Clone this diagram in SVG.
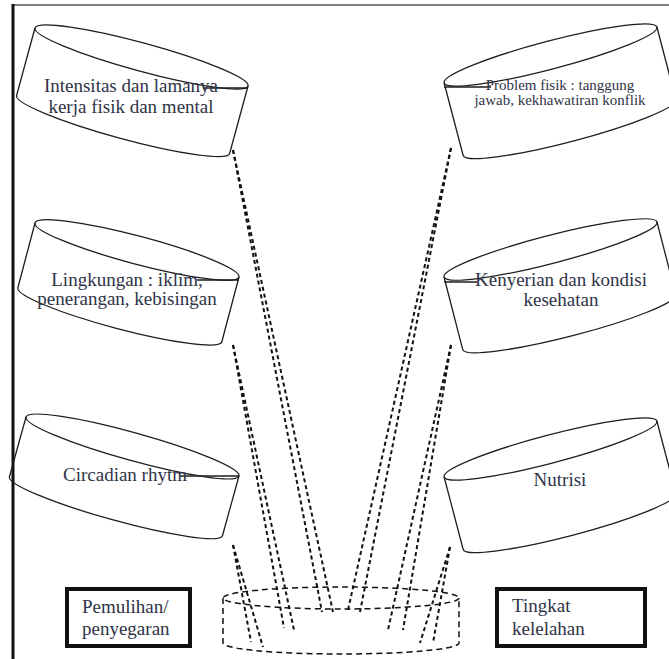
<svg xmlns="http://www.w3.org/2000/svg" width="669" height="659" viewBox="0 0 669 659">
<style>
.cyl{fill:none;stroke:#1e1e1e;stroke-width:1.3}
.t{font-family:"Liberation Serif","Times New Roman",serif;font-size:19px;fill:#2f3347}
.ts{font-family:"Liberation Serif","Times New Roman",serif;font-size:15px;fill:#2f3347}
.hl{stroke:#1e1e1e;stroke-width:1.3}
.box{fill:none;stroke:#111;stroke-width:4}
.dl{fill:none;stroke:#111;stroke-width:2;stroke-dasharray:4 3}
.dc{fill:none;stroke:#111;stroke-width:1.5;stroke-dasharray:6 4}
</style>
<rect width="669" height="659" fill="#fff"/>
<g id="frame">
<line x1="13" y1="5" x2="669" y2="5" stroke="#555" stroke-width="1.6"/>
<line x1="13" y1="4" x2="13" y2="659" stroke="#111" stroke-width="3"/>
</g>
<g id="cyl-intensitas">
<g transform="translate(141.5,57) rotate(15.23)">
<ellipse class="cyl" cx="0" cy="0" rx="110.4" ry="14"/>
<path class="cyl" d="M-110.4,0 L-110.4,70 A110.4,14 0 0 0 110.4,70 L110.4,0"/>
</g>
<line class="hl" x1="203" y1="88" x2="248" y2="88"/>
<text class="t" text-anchor="middle"><tspan x="131" y="92">Intensitas dan lamanya</tspan><tspan x="131" y="113">kerja fisik dan mental</tspan></text>
</g>
<g id="cyl-lingkungan">
<g transform="translate(137,250) rotate(14.83)">
<ellipse class="cyl" cx="0" cy="0" rx="105.5" ry="14"/>
<path class="cyl" d="M-105.5,0 L-105.5,67 A105.5,14 0 0 0 105.5,67 L105.5,0"/>
</g>
<line class="hl" x1="197" y1="280" x2="239" y2="280"/>
<text class="t" text-anchor="middle"><tspan x="127" y="286">Lingkungan : iklim,</tspan><tspan x="127" y="305">penerangan, kebisingan</tspan></text>
</g>
<g id="cyl-circadian">
<g transform="translate(132.5,446.5) rotate(15.48)">
<ellipse class="cyl" cx="0" cy="0" rx="110.5" ry="14"/>
<path class="cyl" d="M-110.5,0 L-110.5,62 A110.5,14 0 0 0 110.5,62 L110.5,0"/>
</g>
<line class="hl" x1="180" y1="476" x2="239" y2="476"/>
<text class="t" text-anchor="middle" x="125" y="481">Circadian rhytm</text>
</g>
<g id="cyl-problem">
<g transform="translate(550.5,55) rotate(-14.73)">
<ellipse class="cyl" cx="0" cy="0" rx="110" ry="14"/>
<path class="cyl" d="M-110,0 L-110,75 A110,14 0 0 0 110,75 L110,0"/>
</g>
<line class="hl" x1="444" y1="87" x2="491" y2="87"/>
<text class="ts" text-anchor="middle"><tspan x="560" y="90">Problem fisik : tanggung</tspan><tspan x="560" y="105">jawab, kekhawatiran konflik</tspan></text>
</g>
<g id="cyl-kenyerian">
<g transform="translate(550.5,249.5) rotate(-14.48)">
<ellipse class="cyl" cx="0" cy="0" rx="110" ry="14"/>
<path class="cyl" d="M-110,0 L-110,75 A110,14 0 0 0 110,75 L110,0"/>
</g>
<line class="hl" x1="444" y1="282" x2="477" y2="282"/>
<text class="t" text-anchor="middle"><tspan x="561" y="286">Kenyerian dan kondisi</tspan><tspan x="561" y="306">kesehatan</tspan></text>
</g>
<g id="cyl-nutrisi">
<g transform="translate(550.5,449) rotate(-14.73)">
<ellipse class="cyl" cx="0" cy="0" rx="110" ry="14"/>
<path class="cyl" d="M-110,0 L-110,75 A110,14 0 0 0 110,75 L110,0"/>
</g>
<text class="t" text-anchor="middle" x="560" y="486">Nutrisi</text>
</g>
<g id="box-pemulihan">
<rect class="box" x="67" y="589" width="123" height="57"/>
<text class="t"><tspan x="82" y="613">Pemulihan/</tspan><tspan x="82" y="635">penyegaran</tspan></text>
</g>
<g id="box-tingkat">
<rect class="box" x="497" y="589" width="148" height="57"/>
<text class="t"><tspan x="512" y="612">Tingkat</tspan><tspan x="512" y="635">kelelahan</tspan></text>
</g>
<g id="cyl-center">
<ellipse class="dc" cx="341" cy="598" rx="118" ry="11"/>
<path class="dc" d="M223,598 L223,643 A118,11 0 0 0 459,643 L459,598"/>
</g>
<g id="connectors">
<line class="dl" x1="233" y1="150" x2="322" y2="612"/>
<line class="dl" x1="233" y1="150" x2="333" y2="612"/>
<line class="dl" x1="233" y1="345" x2="284" y2="628"/>
<line class="dl" x1="233" y1="345" x2="294" y2="630"/>
<line class="dl" x1="233" y1="545" x2="251" y2="642"/>
<line class="dl" x1="233" y1="545" x2="263" y2="647"/>
<line class="dl" x1="451" y1="148" x2="348" y2="610"/>
<line class="dl" x1="451" y1="148" x2="360" y2="612"/>
<line class="dl" x1="451" y1="345" x2="388" y2="630"/>
<line class="dl" x1="451" y1="345" x2="403" y2="630"/>
<line class="dl" x1="450" y1="547" x2="420" y2="643"/>
<line class="dl" x1="450" y1="547" x2="433" y2="643"/>
</g>
</svg>
